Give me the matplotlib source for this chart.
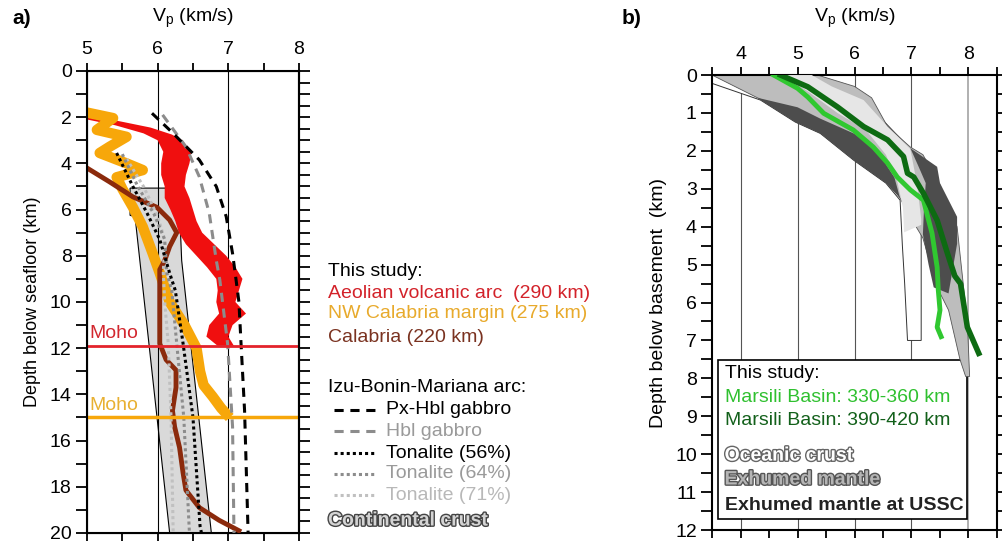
import numpy as np
import matplotlib
matplotlib.use('Agg')
import matplotlib.pyplot as plt
import matplotlib.patheffects as pe
from matplotlib.lines import Line2D

plt.rcParams['font.family'] = ['Liberation Sans', 'DejaVu Sans']
plt.rcParams['font.size'] = 14

# ---------------- panel a data (Vp km/s, depth km) ----------------
red_right_vp = [5.0, 5.5, 5.9, 6.2, 6.35, 6.48, 6.45, 6.4, 6.38, 6.45, 6.5, 6.55, 6.63, 6.8, 6.97, 7.1, 7.2, 7.15, 7.1, 7.25, 7.06, 7.0, 7.08]
red_right_z = [1.9, 2.2, 2.45, 2.75, 3.0, 3.5, 4.0, 4.5, 5.0, 5.5, 6.0, 6.5, 7.0, 7.5, 8.0, 8.5, 9.0, 9.5, 10.0, 10.5, 11.0, 11.5, 11.9]
red_left_vp = [6.85, 6.69, 6.73, 6.87, 6.83, 6.85, 6.83, 6.7, 6.55, 6.4, 6.3, 6.25, 6.18, 6.1, 6.1, 6.05, 6.05, 6.08, 6.0, 5.8, 5.4, 5.0]
red_left_z = [11.9, 11.5, 11.0, 10.5, 10.0, 9.5, 9.0, 8.5, 8.0, 7.5, 7.0, 6.5, 6.0, 5.5, 5.0, 4.5, 4.0, 3.5, 3.0, 2.7, 2.35, 2.1]

orange_vp = [5.0, 5.37, 5.14, 5.56, 5.32, 5.18, 5.56, 5.79, 5.42, 5.5, 5.65, 5.79, 5.93, 6.03, 6.17, 6.38, 6.55, 6.6, 6.65, 6.78, 6.9, 7.02]
orange_z = [1.8, 2.04, 2.55, 2.85, 3.28, 3.55, 4.0, 4.29, 4.6, 5.1, 5.9, 6.75, 7.9, 8.75, 10.0, 11.0, 12.0, 13.0, 13.6, 14.1, 14.6, 15.0]

brown_vp = [5.0, 5.32, 5.65, 5.99, 6.17, 6.27, 6.17, 6.1, 6.03, 6.03, 6.03, 6.12, 6.26, 6.26, 6.21, 6.24, 6.31, 6.36, 6.4, 6.59, 6.87, 7.15]
brown_z = [4.2, 4.8, 5.45, 5.9, 6.45, 7.0, 7.6, 8.2, 8.6, 9.05, 11.8, 12.5, 12.95, 13.7, 14.7, 15.4, 16.3, 17.4, 18.15, 18.9, 19.45, 19.9]

pxhbl_vp = [5.92, 6.22, 6.59, 6.83, 6.97, 7.06, 7.11, 7.15, 7.18, 7.23, 7.28]
pxhbl_z = [1.83, 2.7, 3.85, 5.0, 6.3, 7.9, 9.05, 10.0, 11.8, 14.7, 20.0]
hbl_vp = [6.07, 6.4, 6.59, 6.73, 6.83, 6.88, 6.99, 7.06, 7.08]
hbl_z = [1.9, 3.28, 4.58, 6.15, 8.2, 9.05, 11.8, 15.4, 20.0]
ton56_vp = [5.42, 5.65, 5.85, 6.03, 6.17, 6.25, 6.36, 6.5, 6.6, 6.62]
ton56_z = [3.55, 5.0, 6.15, 7.3, 8.75, 9.5, 11.8, 15.0, 19.7, 20.0]
ton64_vp = [5.5, 5.72, 5.95, 6.1, 6.13, 6.2, 6.27, 6.37, 6.45]
ton64_z = [3.6, 5.0, 6.2, 7.3, 8.75, 9.5, 11.8, 15.0, 20.0]
ton71_vp = [5.56, 5.8, 6.0, 6.1, 6.08, 6.1, 6.15, 6.19, 6.22]
ton71_z = [3.8, 5.0, 6.3, 7.3, 8.75, 10.0, 11.8, 15.0, 20.0]

crust_vp = [5.61, 6.31, 6.32, 6.34, 6.76, 6.17, 5.68, 5.61]
crust_z = [5.07, 5.07, 6.7, 8.2, 20.0, 20.0, 6.3, 6.25]

moho_red = 11.9
moho_orange = 15.0

# ---------------- panel b data ----------------
ocean_vp = [3.5, 4.35, 4.96, 5.4, 5.98, 6.55, 6.8, 6.84, 6.88, 6.93, 7.17, 7.17, 7.1, 6.98, 6.16, 5.25, 3.5]
ocean_z = [0.22, 0.66, 1.24, 1.54, 2.24, 2.85, 3.3, 4.5, 5.5, 7.0, 7.0, 3.8, 2.9, 1.95, 0.66, 0.0, 0.0]

mantle_vp = [3.5, 4.35, 5.0, 5.5, 6.0, 6.5, 6.8, 7.0, 7.2, 7.45, 7.65, 7.85, 7.95, 8.02, 7.98, 7.9, 7.8, 7.5, 7.2, 6.98, 6.58, 6.3, 6.0, 5.35]
mantle_z = [0.0, 0.64, 1.0, 1.4, 1.9, 2.5, 3.25, 3.8, 4.3, 5.6, 6.2, 7.5, 7.95, 7.95, 6.5, 5.4, 4.0, 2.9, 2.1, 1.9, 1.36, 0.6, 0.3, 0.0]

light_vp = [4.75, 5.2, 5.7, 6.2, 6.55, 6.75, 6.85, 6.87, 7.17, 7.17, 7.1, 6.98, 6.58, 6.16, 5.6, 5.25]
light_z = [0.0, 0.45, 1.0, 1.45, 2.1, 2.8, 3.5, 4.15, 3.95, 3.8, 2.9, 1.95, 1.36, 0.66, 0.3, 0.0]

ussc_low_vp = [4.3, 5.0, 5.4, 6.0, 6.4, 6.7, 6.8, 6.55, 5.98, 5.4, 4.96, 4.35]
ussc_low_z = [0.6, 0.85, 1.15, 1.55, 2.0, 2.7, 3.25, 2.85, 2.24, 1.54, 1.24, 0.66]
ussc_right_vp = [6.98, 7.45, 7.5, 7.8, 7.8, 7.65, 7.39, 7.3, 7.2, 7.22, 7.25, 7.12]
ussc_right_z = [1.93, 2.42, 2.85, 3.74, 4.45, 5.76, 5.6, 5.0, 4.2, 3.5, 2.85, 2.4]

marsili1_vp = [4.58, 5.0, 5.18, 5.46, 5.98, 6.33, 6.58, 6.75, 6.98, 7.21, 7.3, 7.36, 7.45, 7.47, 7.5, 7.45, 7.52]
marsili1_z = [0.0, 0.35, 0.58, 1.01, 1.45, 1.9, 2.32, 2.69, 3.03, 3.3, 3.83, 4.17, 5.07, 5.67, 6.2, 6.65, 6.9]
marsili2_vp = [4.7, 5.18, 5.7, 6.16, 6.58, 6.86, 6.93, 7.04, 7.21, 7.45, 7.63, 7.76, 7.86, 7.98, 8.18]
marsili2_z = [0.0, 0.31, 0.84, 1.36, 1.71, 2.15, 2.59, 2.69, 3.12, 3.83, 4.7, 5.3, 5.5, 6.65, 7.34]

RED = '#f00f0f'
ORANGE = '#f7a70a'
BROWN = '#8b2a0c'
GREEN1 = '#30c830'
GREEN2 = '#0d6b12'

fig = plt.figure(figsize=(10.03, 5.41), dpi=100)

# ================= panel a =================
ax = fig.add_axes([0.0867, 0.0148, 0.2114, 0.854])
ax.fill(crust_vp, crust_z, facecolor='#d9d9d9', edgecolor='black', lw=0.8, zorder=1)
for v in [6, 7]:
    ax.axvline(v, color='black', lw=0.8, zorder=1.5)
ax.fill(red_right_vp + red_left_vp, red_right_z + red_left_z, color=RED, lw=0, zorder=2)
ax.plot(orange_vp, orange_z, color=ORANGE, lw=7.5, solid_capstyle='butt', zorder=3)
ax.plot(brown_vp, brown_z, color=BROWN, lw=3.5, zorder=4)
ax.plot(ton71_vp, ton71_z, color='#c0c0c0', lw=2.2, ls=(0, (1, 1)), zorder=5)
ax.plot(ton64_vp, ton64_z, color='#8c8c8c', lw=2.2, ls=(0, (1, 1)), zorder=5)
ax.plot(ton56_vp, ton56_z, color='black', lw=2.2, ls=(0, (1, 1)), zorder=5)
ax.plot(hbl_vp, hbl_z, color='#8c8c8c', lw=2.2, ls=(0, (3, 2.2)), zorder=5)
ax.plot(pxhbl_vp, pxhbl_z, color='black', lw=2.2, ls=(0, (3, 2.2)), zorder=5)
ax.axhline(moho_red, color='#e3232b', lw=2, zorder=6)
ax.axhline(moho_orange, color=ORANGE, lw=2.5, zorder=6)
ax.text(5.03, moho_red - 0.15, 'Moho', color='#d2272e', fontsize=14, va='bottom', zorder=7)
ax.text(5.03, moho_orange - 0.15, 'Moho', color='#e8b032', fontsize=14, va='bottom', zorder=7)

ax.set_xlim(5, 8)
ax.set_ylim(20, 0)
ax.xaxis.tick_top()
ax.tick_params(axis='x', which='both', top=True, bottom=True, labelbottom=False, direction='out', length=6, width=1.3)
ax.set_xticks([5, 6, 7, 8])
ax.set_xticks([5.5, 6.5, 7.5], minor=True)
ax.set_yticks(np.arange(0, 21, 2))
ax.set_yticks(np.arange(0, 21, 1), minor=True)
ax.tick_params(axis='y', which='both', direction='out', length=8, width=1.3, left=True, right=False)
ax.tick_params(labelsize=14, pad=3)
for s in ax.spines.values():
    s.set_linewidth(1.5)
ax.set_ylabel('Depth below seafloor (km)', fontsize=13, labelpad=6)
axr = ax.twinx()
axr.set_ylim(20, 0)
axr.set_yticks(np.arange(0, 20.1, 0.5))
axr.tick_params(axis='y', direction='out', length=8, width=1.3, labelright=False)
axr.spines['right'].set_linewidth(1.5)

fig.text(12 / 1003, 1 - 18 / 541, 'a)', fontsize=15, fontweight='bold', va='center')
fig.text(193 / 1003, 1 - 18 / 541, r'V$_\mathregular{p}$ (km/s)', fontsize=14, va='center', ha='center')

# legend for panel a
def fy(py):
    return 1 - py / 541

lx = 328 / 1003
fig.text(lx, fy(272), 'This study:', color='black', va='center')
fig.text(lx, fy(293), 'Aeolian volcanic arc  (290 km)', color='#d3222a', va='center')
fig.text(lx, fy(314), 'NW Calabria margin (275 km)', color='#e8aa2c', va='center')
fig.text(lx, fy(337), 'Calabria (220 km)', color='#7a3220', va='center')
fig.text(lx, fy(388), 'Izu-Bonin-Mariana arc:', color='black', va='center')
leg_items = [
    ('Px-Hbl gabbro', 'black', (0, (3, 2.2)), 'black', 410),
    ('Hbl gabbro', '#8c8c8c', (0, (3, 2.2)), '#9a9a9a', 431),
    ('Tonalite (56%)', 'black', (0, (1, 1)), 'black', 453),
    ('Tonalite (64%)', '#8c8c8c', (0, (1, 1)), '#9a9a9a', 474),
    ('Tonalite (71%)', '#c0c0c0', (0, (1, 1)), '#b8b8b8', 495),
]
for label, lc, ls, tc, py in leg_items:
    fig.add_artist(Line2D([334 / 1003, 375 / 1003], [fy(py), fy(py)], color=lc, ls=ls, lw=2.2))
    fig.text(386 / 1003, fy(py), label, color=tc, va='center')
fig.text(lx, fy(521), 'Continental crust', color='#d4d4d4', va='center', fontweight='bold',
         path_effects=[pe.withStroke(linewidth=2, foreground='#444444')])

# ================= panel b =================
bx = fig.add_axes([0.7099, 0.0203, 0.2841, 0.841])
for v in [4, 5, 6, 7]:
    bx.axvline(v, color='#555555', lw=0.8, zorder=0.5)
bx.axvline(8, color='#b0b0b0', lw=1.4, zorder=0.5)

# legend box sits under the data shapes
box = plt.Rectangle((3.6, 7.52), 4.38, 4.19, facecolor='white', edgecolor='black', lw=1.2, zorder=0.8)
bx.add_patch(box)

bx.fill(ocean_vp, ocean_z, facecolor='white', edgecolor='#333333', lw=0.7, zorder=1)
bx.fill(mantle_vp, mantle_z, facecolor='#bdbdbd', edgecolor='#555555', lw=0.6, zorder=2)
bx.fill(light_vp, light_z, facecolor='#e6e6e6', edgecolor='none', lw=0, zorder=3)
bx.fill(ussc_low_vp, ussc_low_z, facecolor='#4d4d4d', edgecolor='none', zorder=4)
bx.fill(ussc_right_vp, ussc_right_z, facecolor='#4d4d4d', edgecolor='none', zorder=4)
bx.plot(marsili1_vp, marsili1_z, color=GREEN1, lw=3.5, zorder=5)
bx.plot(marsili2_vp, marsili2_z, color=GREEN2, lw=4, zorder=5)

bx.set_xlim(3.5, 8.5)
bx.set_ylim(12, 0)
bx.xaxis.tick_top()
bx.set_xticks([4, 5, 6, 7, 8])
bx.set_xticks([3.5, 4.5, 5.5, 6.5, 7.5, 8.5], minor=True)
bx.tick_params(axis='x', which='both', top=True, bottom=True, labelbottom=False, direction='out', length=6, width=1.3)
bx.set_yticks(np.arange(0, 13, 1))
bx.set_yticks(np.arange(0, 12.1, 0.5), minor=True)
bx.tick_params(axis='y', which='both', direction='out', length=8, width=1.3, left=True, right=True)
bx.tick_params(labelsize=14, pad=3)
for s in bx.spines.values():
    s.set_linewidth(1.5)
bx.set_ylabel('Depth below basement  (km)', fontsize=14, labelpad=6)

fig.text(622 / 1003, 1 - 18 / 541, 'b)', fontsize=15, fontweight='bold', va='center')
fig.text(855 / 1003, 1 - 18 / 541, r'V$_\mathregular{p}$ (km/s)', fontsize=14, va='center', ha='center')

tx = 3.72
bx.text(tx, 7.86, 'This study:', color='black', va='center', zorder=7)
bx.text(tx, 8.5, 'Marsili Basin: 330-360 km', color='#2fc02f', va='center', zorder=7)
bx.text(tx, 9.12, 'Marsili Basin: 390-420 km', color='#12601a', va='center', zorder=7)
bx.text(tx, 10.05, 'Oceanic crust', color='white', va='center', fontweight='bold', zorder=7,
        path_effects=[pe.withStroke(linewidth=2, foreground='#666666')])
bx.text(tx, 10.68, 'Exhumed mantle', color='#b5b5b5', va='center', fontweight='bold', zorder=7,
        path_effects=[pe.withStroke(linewidth=2, foreground='#555555')])
bx.text(tx, 11.35, 'Exhumed mantle at USSC', color='#222222', va='center', fontweight='bold', zorder=7)

fig.savefig('out.png', dpi=100)
